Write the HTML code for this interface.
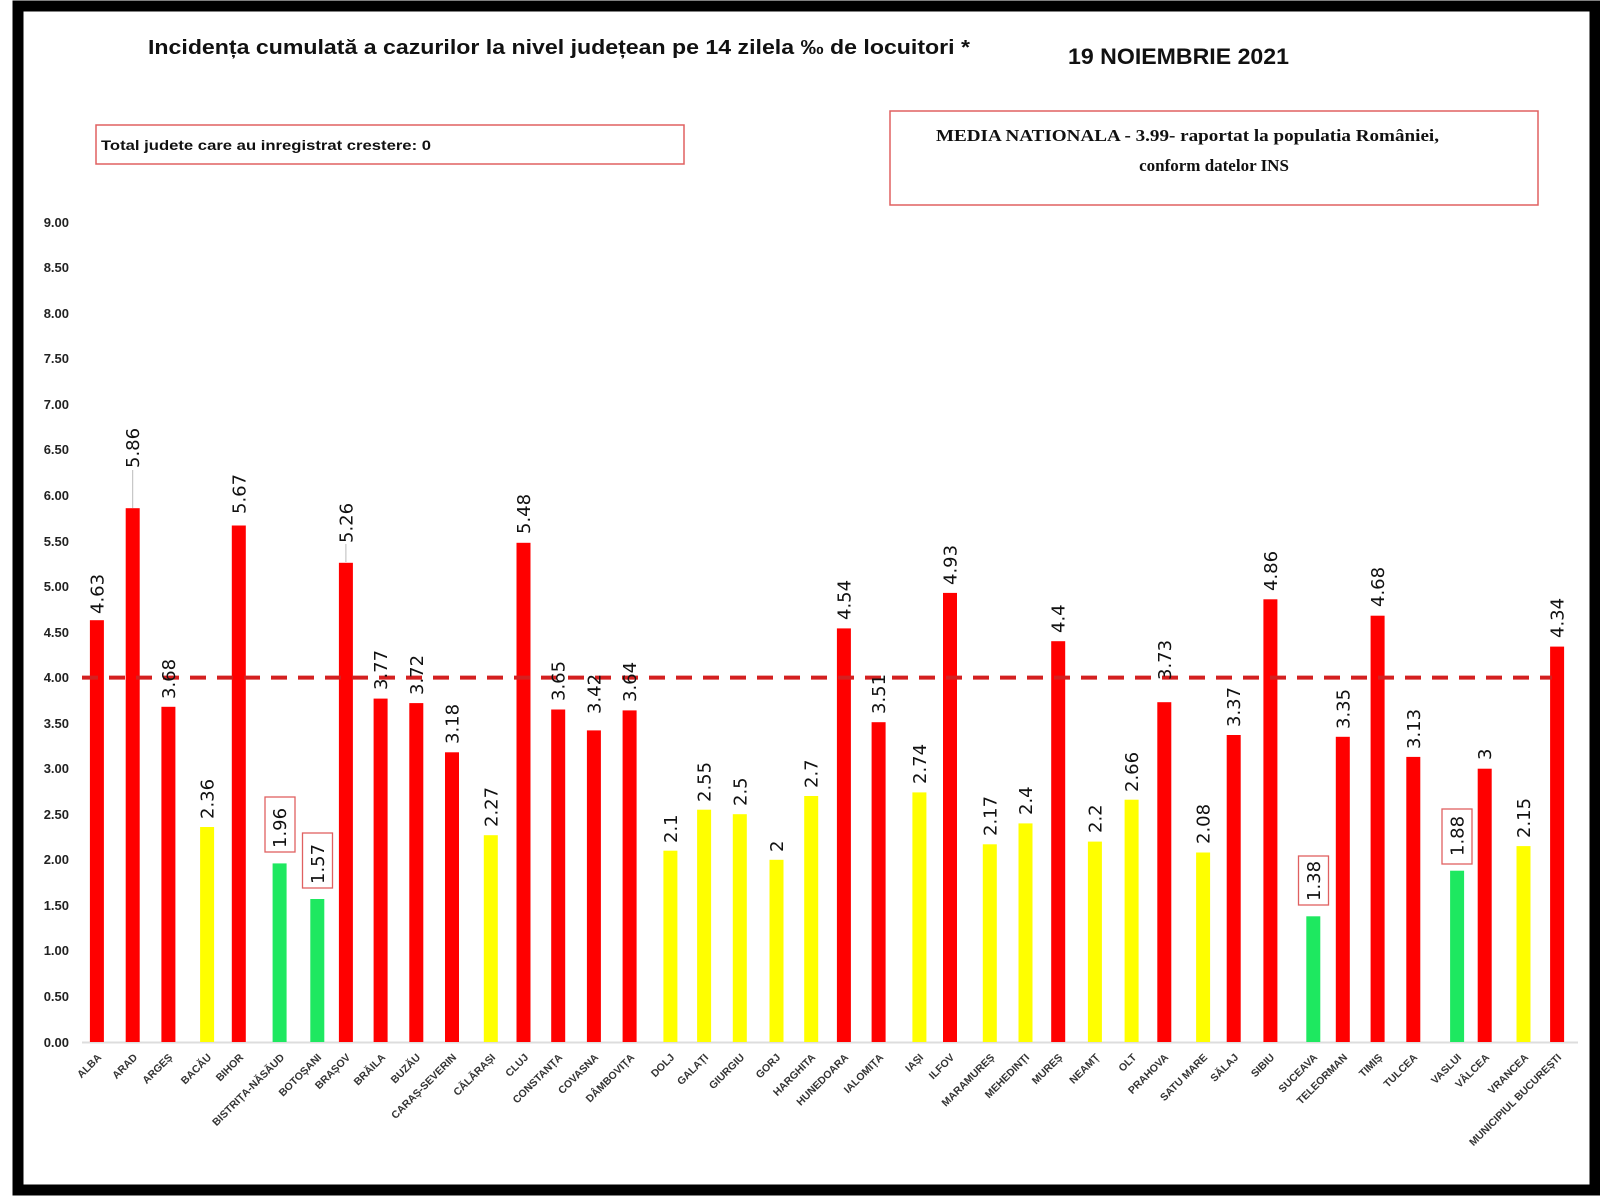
<!DOCTYPE html>
<html><head><meta charset="utf-8"><style>
html,body{margin:0;padding:0;background:#fff;}
svg{display:block;}
.yl{font:bold 13px "Liberation Sans",sans-serif;fill:#222;text-anchor:end;}
.v{font:18px "DejaVu Sans",sans-serif;fill:#111;}
.c{font:bold 10.5px "Liberation Sans",sans-serif;fill:#333;text-anchor:end;}
</style></head><body>
<svg width="1600" height="1200" viewBox="0 0 1600 1200" xmlns="http://www.w3.org/2000/svg">
<rect x="0" y="0" width="1600" height="1200" fill="#fff"/>
<rect x="18" y="6" width="1577" height="1184" fill="none" stroke="#000" stroke-width="11"/>
<text x="148" y="54" font-family="Liberation Sans,sans-serif" font-weight="bold" font-size="20" fill="#111" textLength="822" lengthAdjust="spacingAndGlyphs">Incidența cumulată a cazurilor la nivel județean pe 14 zilela ‰ de locuitori *</text>
<text x="1068" y="64" font-family="Liberation Sans,sans-serif" font-weight="bold" font-size="22" fill="#111" textLength="221" lengthAdjust="spacingAndGlyphs">19 NOIEMBRIE 2021</text>
<rect x="96" y="125" width="588" height="39" fill="#fff" stroke="#e06060" stroke-width="1.5"/>
<text x="101" y="150" font-family="Liberation Sans,sans-serif" font-weight="bold" font-size="14" fill="#111" textLength="330" lengthAdjust="spacingAndGlyphs">Total judete care au inregistrat crestere: 0</text>
<rect x="890" y="111" width="648" height="94" fill="#fff" stroke="#e06060" stroke-width="1.5"/>
<text x="936" y="141" font-family="Liberation Serif,serif" font-weight="bold" font-size="17" fill="#111" textLength="503" lengthAdjust="spacingAndGlyphs">MEDIA NATIONALA  - 3.99-  raportat la populatia României,</text>
<text x="1214" y="171" font-family="Liberation Serif,serif" font-weight="bold" font-size="17" fill="#111" text-anchor="middle">conform datelor INS</text>
<g class="yl">
<text x="69" y="227">9.00</text><text x="69" y="272">8.50</text><text x="69" y="318">8.00</text>
<text x="69" y="363">7.50</text><text x="69" y="409">7.00</text><text x="69" y="454">6.50</text>
<text x="69" y="500">6.00</text><text x="69" y="546">5.50</text><text x="69" y="591">5.00</text>
<text x="69" y="637">4.50</text><text x="69" y="682">4.00</text><text x="69" y="728">3.50</text>
<text x="69" y="773">3.00</text><text x="69" y="819">2.50</text><text x="69" y="864">2.00</text>
<text x="69" y="910">1.50</text><text x="69" y="955">1.00</text><text x="69" y="1001">0.50</text>
<text x="69" y="1047">0.00</text>
</g>
<line x1="82" y1="1042.5" x2="1578" y2="1042.5" stroke="#ddd" stroke-width="2"/>
<g>
<rect x="89.9" y="620.2" width="14" height="421.8" fill="#f00"/>
<rect x="125.7" y="508.2" width="14" height="533.8" fill="#f00"/>
<rect x="161.4" y="706.8" width="14" height="335.2" fill="#f00"/>
<rect x="200.1" y="827" width="14" height="215" fill="#ff0"/>
<rect x="231.8" y="525.5" width="14" height="516.5" fill="#f00"/>
<rect x="272.6" y="863.4" width="14" height="178.6" fill="#1ee860"/>
<rect x="310.3" y="899" width="14" height="143" fill="#1ee860"/>
<rect x="338.9" y="562.8" width="14" height="479.2" fill="#f00"/>
<rect x="373.6" y="698.6" width="14" height="343.4" fill="#f00"/>
<rect x="409.3" y="703.1" width="14" height="338.9" fill="#f00"/>
<rect x="445" y="752.3" width="14" height="289.7" fill="#f00"/>
<rect x="483.8" y="835.2" width="14" height="206.8" fill="#ff0"/>
<rect x="516.5" y="542.8" width="14" height="499.2" fill="#f00"/>
<rect x="551.2" y="709.5" width="14" height="332.5" fill="#f00"/>
<rect x="586.9" y="730.4" width="14" height="311.6" fill="#f00"/>
<rect x="622.6" y="710.4" width="14" height="331.6" fill="#f00"/>
<rect x="663.4" y="850.7" width="14" height="191.3" fill="#ff0"/>
<rect x="697.1" y="809.7" width="14" height="232.3" fill="#ff0"/>
<rect x="732.8" y="814.2" width="14" height="227.8" fill="#ff0"/>
<rect x="769.5" y="859.8" width="14" height="182.2" fill="#ff0"/>
<rect x="804.2" y="796" width="14" height="246" fill="#ff0"/>
<rect x="836.9" y="628.4" width="14" height="413.6" fill="#f00"/>
<rect x="871.6" y="722.2" width="14" height="319.8" fill="#f00"/>
<rect x="912.4" y="792.4" width="14" height="249.6" fill="#ff0"/>
<rect x="943" y="592.9" width="14" height="449.1" fill="#f00"/>
<rect x="982.8" y="844.3" width="14" height="197.7" fill="#ff0"/>
<rect x="1018.5" y="823.4" width="14" height="218.6" fill="#ff0"/>
<rect x="1051.2" y="641.2" width="14" height="400.8" fill="#f00"/>
<rect x="1087.9" y="841.6" width="14" height="200.4" fill="#ff0"/>
<rect x="1124.6" y="799.7" width="14" height="242.3" fill="#ff0"/>
<rect x="1157.3" y="702.2" width="14" height="339.8" fill="#f00"/>
<rect x="1196.1" y="852.5" width="14" height="189.5" fill="#ff0"/>
<rect x="1226.7" y="735" width="14" height="307" fill="#f00"/>
<rect x="1263.4" y="599.3" width="14" height="442.7" fill="#f00"/>
<rect x="1306.3" y="916.3" width="14" height="125.7" fill="#1ee860"/>
<rect x="1335.8" y="736.8" width="14" height="305.2" fill="#f00"/>
<rect x="1370.6" y="615.7" width="14" height="426.3" fill="#f00"/>
<rect x="1406.3" y="756.9" width="14" height="285.1" fill="#f00"/>
<rect x="1450.1" y="870.7" width="14" height="171.3" fill="#1ee860"/>
<rect x="1477.7" y="768.7" width="14" height="273.3" fill="#f00"/>
<rect x="1516.5" y="846.1" width="14" height="195.9" fill="#ff0"/>
<rect x="1550.1" y="646.6" width="14" height="395.4" fill="#f00"/>
</g>
<line x1="82" y1="677.6" x2="1552" y2="677.6" stroke="#d42020" stroke-width="4" stroke-dasharray="16,11"/>
<line x1="132.7" y1="508" x2="132.7" y2="470" stroke="#bbb" stroke-width="1"/>
<line x1="345.9" y1="562" x2="345.9" y2="544" stroke="#bbb" stroke-width="1"/>
<g fill="#fff" stroke="#e06060" stroke-width="1.3">
<rect x="265" y="797" width="30" height="55"/>
<rect x="302.5" y="833" width="30" height="55"/>
<rect x="1298.5" y="856" width="30" height="49"/>
<rect x="1442" y="809" width="30" height="55"/>
</g>
<g class="v">
<text transform="translate(103.4,614) rotate(-90)">4.63</text>
<text transform="translate(139.2,468) rotate(-90)">5.86</text>
<text transform="translate(174.9,699) rotate(-90)">3.68</text>
<text transform="translate(213.6,819) rotate(-90)">2.36</text>
<text transform="translate(245.3,514) rotate(-90)">5.67</text>
<text transform="translate(286.1,848) rotate(-90)">1.96</text>
<text transform="translate(323.8,884) rotate(-90)">1.57</text>
<text transform="translate(352.4,543) rotate(-90)">5.26</text>
<text transform="translate(387.1,690) rotate(-90)">3.77</text>
<text transform="translate(422.8,695) rotate(-90)">3.72</text>
<text transform="translate(458.5,744) rotate(-90)">3.18</text>
<text transform="translate(497.3,827) rotate(-90)">2.27</text>
<text transform="translate(530,534) rotate(-90)">5.48</text>
<text transform="translate(564.7,701) rotate(-90)">3.65</text>
<text transform="translate(600.4,714) rotate(-90)">3.42</text>
<text transform="translate(636.1,702) rotate(-90)">3.64</text>
<text transform="translate(676.9,843) rotate(-90)">2.1</text>
<text transform="translate(710.6,802) rotate(-90)">2.55</text>
<text transform="translate(746.3,806) rotate(-90)">2.5</text>
<text transform="translate(783,852) rotate(-90)">2</text>
<text transform="translate(817.7,788) rotate(-90)">2.7</text>
<text transform="translate(850.4,620) rotate(-90)">4.54</text>
<text transform="translate(885.1,714) rotate(-90)">3.51</text>
<text transform="translate(925.9,784) rotate(-90)">2.74</text>
<text transform="translate(956.5,585) rotate(-90)">4.93</text>
<text transform="translate(996.3,836) rotate(-90)">2.17</text>
<text transform="translate(1032,815) rotate(-90)">2.4</text>
<text transform="translate(1064.7,633) rotate(-90)">4.4</text>
<text transform="translate(1101.4,833) rotate(-90)">2.2</text>
<text transform="translate(1138.1,792) rotate(-90)">2.66</text>
<text transform="translate(1170.8,680) rotate(-90)">3.73</text>
<text transform="translate(1209.6,844) rotate(-90)">2.08</text>
<text transform="translate(1240.2,727) rotate(-90)">3.37</text>
<text transform="translate(1276.9,591) rotate(-90)">4.86</text>
<text transform="translate(1319.8,901) rotate(-90)">1.38</text>
<text transform="translate(1349.3,729) rotate(-90)">3.35</text>
<text transform="translate(1384.1,607) rotate(-90)">4.68</text>
<text transform="translate(1419.8,749) rotate(-90)">3.13</text>
<text transform="translate(1463.6,856) rotate(-90)">1.88</text>
<text transform="translate(1491.2,760) rotate(-90)">3</text>
<text transform="translate(1530,838) rotate(-90)">2.15</text>
<text transform="translate(1563.6,638) rotate(-90)">4.34</text>
</g>
<g class="c">
<text transform="translate(102,1058) rotate(-45)">ALBA</text>
<text transform="translate(138,1058) rotate(-45)">ARAD</text>
<text transform="translate(173,1058) rotate(-45)">ARGEȘ</text>
<text transform="translate(212,1058) rotate(-45)">BACĂU</text>
<text transform="translate(244,1058) rotate(-45)">BIHOR</text>
<text transform="translate(285,1058) rotate(-45)">BISTRIȚA-NĂSĂUD</text>
<text transform="translate(322,1058) rotate(-45)">BOTOȘANI</text>
<text transform="translate(351,1058) rotate(-45)">BRAȘOV</text>
<text transform="translate(386,1058) rotate(-45)">BRĂILA</text>
<text transform="translate(421,1058) rotate(-45)">BUZĂU</text>
<text transform="translate(457,1058) rotate(-45)">CARAȘ-SEVERIN</text>
<text transform="translate(496,1058) rotate(-45)">CĂLĂRAȘI</text>
<text transform="translate(529,1058) rotate(-45)">CLUJ</text>
<text transform="translate(563,1058) rotate(-45)">CONSTANȚA</text>
<text transform="translate(599,1058) rotate(-45)">COVASNA</text>
<text transform="translate(635,1058) rotate(-45)">DÂMBOVIȚA</text>
<text transform="translate(675,1058) rotate(-45)">DOLJ</text>
<text transform="translate(709,1058) rotate(-45)">GALAȚI</text>
<text transform="translate(745,1058) rotate(-45)">GIURGIU</text>
<text transform="translate(781,1058) rotate(-45)">GORJ</text>
<text transform="translate(816,1058) rotate(-45)">HARGHITA</text>
<text transform="translate(849,1058) rotate(-45)">HUNEDOARA</text>
<text transform="translate(884,1058) rotate(-45)">IALOMIȚA</text>
<text transform="translate(924,1058) rotate(-45)">IAȘI</text>
<text transform="translate(955,1058) rotate(-45)">ILFOV</text>
<text transform="translate(995,1058) rotate(-45)">MARAMUREȘ</text>
<text transform="translate(1030,1058) rotate(-45)">MEHEDINȚI</text>
<text transform="translate(1063,1058) rotate(-45)">MUREȘ</text>
<text transform="translate(1100,1058) rotate(-45)">NEAMȚ</text>
<text transform="translate(1137,1058) rotate(-45)">OLT</text>
<text transform="translate(1169,1058) rotate(-45)">PRAHOVA</text>
<text transform="translate(1208,1058) rotate(-45)">SATU MARE</text>
<text transform="translate(1239,1058) rotate(-45)">SĂLAJ</text>
<text transform="translate(1275,1058) rotate(-45)">SIBIU</text>
<text transform="translate(1318,1058) rotate(-45)">SUCEAVA</text>
<text transform="translate(1348,1058) rotate(-45)">TELEORMAN</text>
<text transform="translate(1383,1058) rotate(-45)">TIMIȘ</text>
<text transform="translate(1418,1058) rotate(-45)">TULCEA</text>
<text transform="translate(1462,1058) rotate(-45)">VASLUI</text>
<text transform="translate(1490,1058) rotate(-45)">VÂLCEA</text>
<text transform="translate(1529,1058) rotate(-45)">VRANCEA</text>
<text transform="translate(1562,1058) rotate(-45)">MUNICIPIUL BUCUREȘTI</text>
</g>
</svg>
</body></html>
